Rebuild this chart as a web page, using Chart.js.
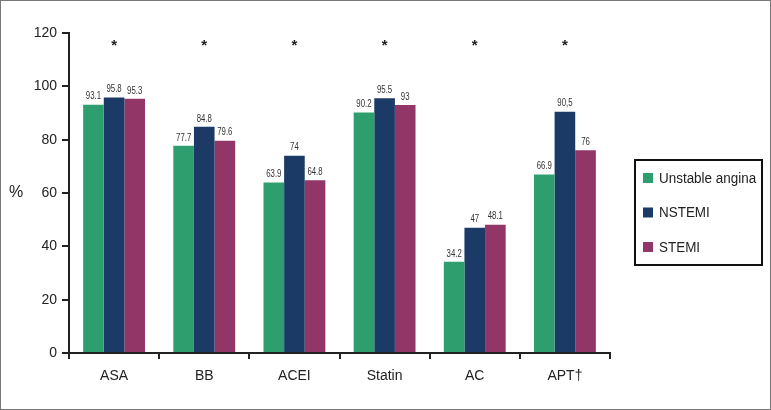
<!DOCTYPE html>
<html>
<head>
<meta charset="utf-8">
<script src="https://cdn.jsdelivr.net/npm/chart.js@4/dist/chart.umd.min.js"></script>
<style>
  html, body { margin: 0; padding: 0; background: #fff; }
  #wrap { width: 771px; height: 410px; }
</style>
</head>
<body>
<div id="wrap"><canvas id="c" width="771" height="410"></canvas></div>
<script>
const categories = ['ASA', 'BB', 'ACEI', 'Statin', 'AC', 'APT\u2020'];
const seriesNames = ['Unstable angina', 'NSTEMI', 'STEMI'];
const unstableAngina = [93.1, 77.7, 63.9, 90.2, 34.2, 66.9];
const nstemi = [95.8, 84.8, 74, 95.5, 47, 90.5];
const stemi = [95.3, 79.6, 64.8, 93, 48.1, 76];
const unstableAnginaLabels = ['93.1', '77.7', '63.9', '90.2', '34.2', '66.9'];
const nstemiLabels = ['95.8', '84.8', '74', '95.5', '47', '90,5'];
const stemiLabels = ['95.3', '79.6', '64.8', '93', '48.1', '76'];
const significance = ['*', '*', '*', '*', '*', '*'];
const yTicks = [0, 20, 40, 60, 80, 100, 120];
const seriesColors = ['#2f9e6f', '#1b3a66', '#923668'];

const FONT = '"Liberation Sans", Arial, sans-serif';
const INK = '#222';

const labelSets = [unstableAnginaLabels, nstemiLabels, stemiLabels];

function condensedText(ctx, text, x, y, sx) {
  ctx.save();
  ctx.translate(x, y);
  ctx.scale(sx, 1);
  ctx.fillText(text, 0, 0);
  ctx.restore();
}

const decorPlugin = {
  id: 'decor',
  beforeDraw(chart) {
    const ctx = chart.ctx;
    ctx.save();
    ctx.fillStyle = '#fff';
    ctx.fillRect(0, 0, chart.width, chart.height);
    ctx.restore();
  },
  afterDraw(chart) {
    const ctx = chart.ctx;
    const x = chart.scales.x, y = chart.scales.y;
    ctx.save();
    // value labels
    ctx.font = '10px ' + FONT;
    ctx.fillStyle = '#333';
    ctx.textAlign = 'center';
    ctx.textBaseline = 'bottom';
    chart.data.datasets.forEach((ds, i) => {
      const meta = chart.getDatasetMeta(i);
      meta.data.forEach((bar, j) => {
        condensedText(ctx, labelSets[i][j], bar.x, bar.y - 3, 0.78);
      });
    });
    // significance asterisks
    ctx.font = 'bold 15px ' + FONT;
    ctx.fillStyle = INK;
    ctx.textBaseline = 'middle';
    significance.forEach((s, j) => {
      if (s) ctx.fillText(s, x.getPixelForValue(j), y.getPixelForValue(116.3) + 3);
    });
    // "%" axis label
    ctx.font = '16px ' + FONT;
    ctx.textAlign = 'center';
    ctx.fillText('%', 16, (y.top + y.bottom) / 2);
    // legend box
    const lx = 635, ly = 160, lw = 127, lh = 105;
    ctx.strokeStyle = '#111';
    ctx.lineWidth = 2;
    ctx.strokeRect(lx, ly, lw, lh);
    ctx.font = '14px ' + FONT;
    ctx.textAlign = 'left';
    ctx.textBaseline = 'middle';
    seriesNames.forEach((name, i) => {
      const cy = ly + 18 + i * 34.5;
      ctx.fillStyle = seriesColors[i];
      ctx.fillRect(lx + 8, cy - 5, 10, 10);
      ctx.fillStyle = INK;
      condensedText(ctx, name, lx + 24, cy + 1, 0.96);
    });
    // outer frame
    ctx.strokeStyle = '#777';
    ctx.lineWidth = 1;
    ctx.strokeRect(0.5, 0.5, chart.width - 1, chart.height - 1);
    ctx.restore();
  }
};

new Chart(document.getElementById('c'), {
  type: 'bar',
  data: {
    labels: categories,
    datasets: [
      { label: seriesNames[0], data: unstableAngina, backgroundColor: seriesColors[0] },
      { label: seriesNames[1], data: nstemi, backgroundColor: seriesColors[1] },
      { label: seriesNames[2], data: stemi, backgroundColor: seriesColors[2] }
    ]
  },
  options: {
    responsive: false,
    animation: false,
    devicePixelRatio: 1,
    layout: { padding: { top: 33, right: 161, bottom: 0, left: 0 } },
    datasets: { bar: { barPercentage: 1, categoryPercentage: 0.686, borderWidth: 0 } },
    plugins: { legend: { display: false }, tooltip: { enabled: false } },
    scales: {
      x: {
        grid: { offset: true, drawOnChartArea: false, drawTicks: true, tickLength: 6, color: INK, lineWidth: 2 },
        border: { color: INK, width: 2 },
        ticks: { color: INK, font: { family: FONT, size: 14 }, padding: 9, maxRotation: 0 },
        afterFit(s) { s.height = 57; }
      },
      y: {
        min: 0, max: 120,
        afterBuildTicks(s) { s.ticks = yTicks.map(v => ({ value: v })); },
        grid: { drawOnChartArea: false, drawTicks: true, tickLength: 7, color: INK, lineWidth: 2 },
        border: { color: INK, width: 2 },
        ticks: { color: INK, font: { family: FONT, size: 14 }, padding: 5 },
        afterFit(s) { s.width = 69; }
      }
    }
  },
  plugins: [decorPlugin]
});
</script>
</body>
</html>
